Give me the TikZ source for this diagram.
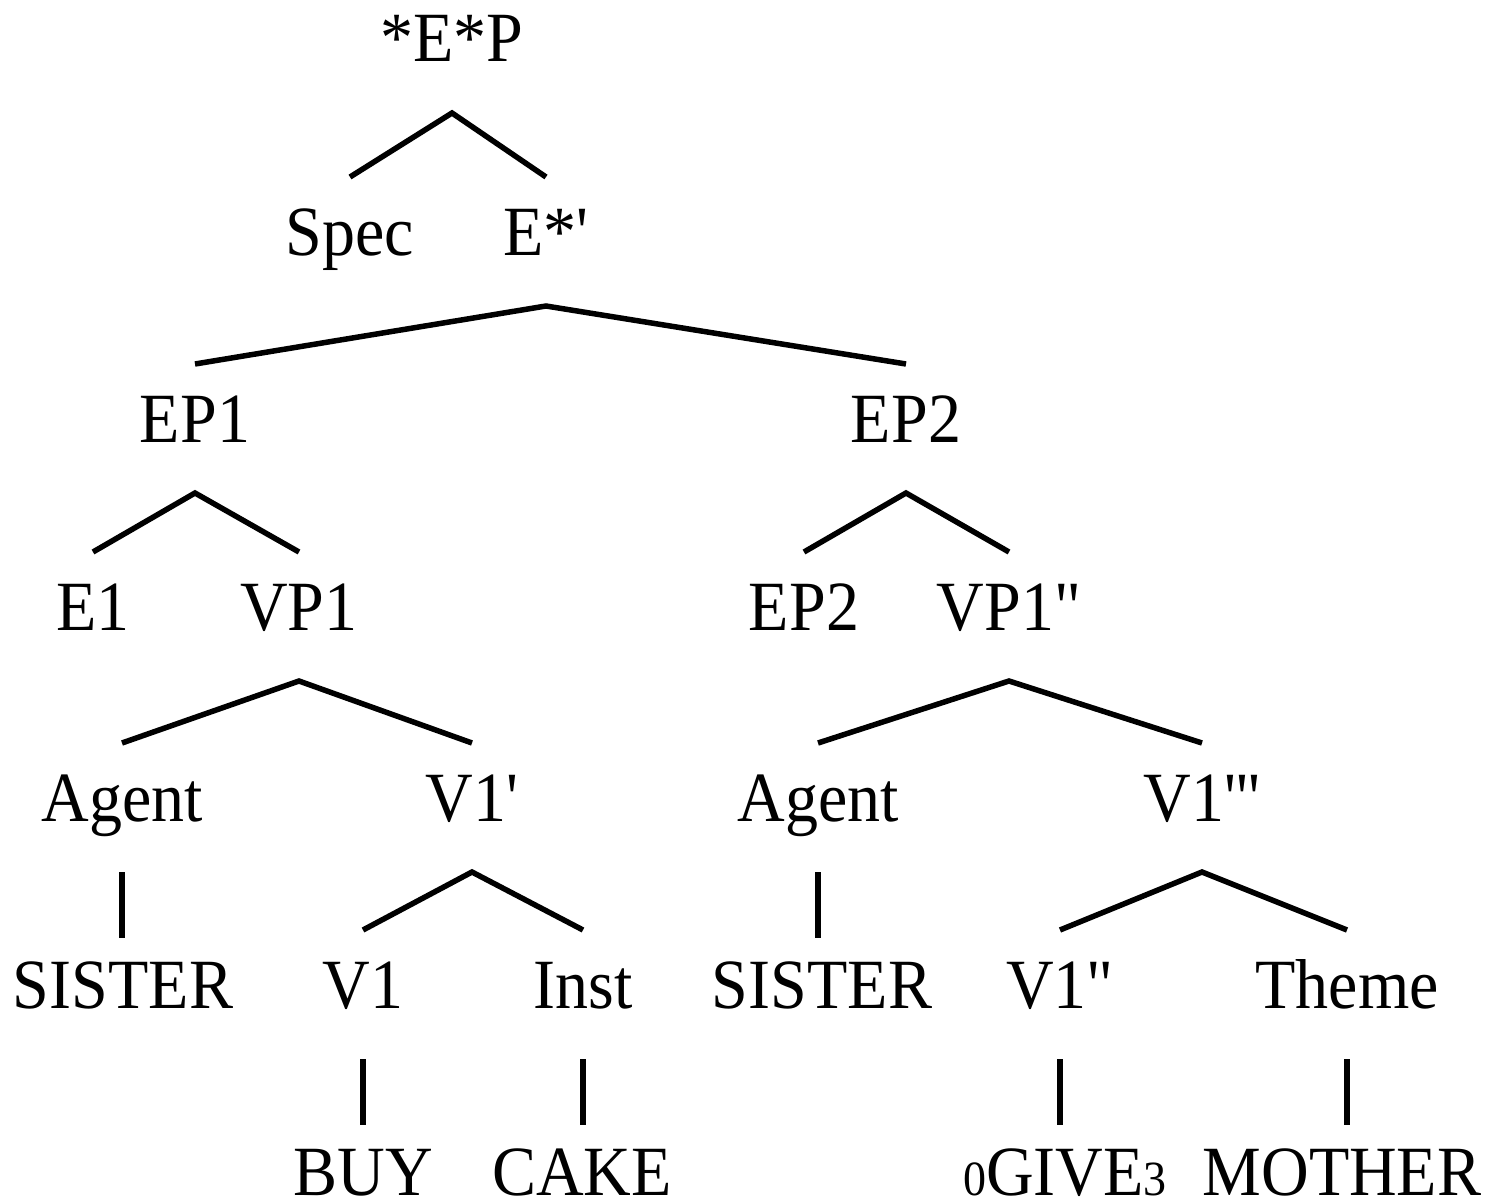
\documentclass[tikz,border=0pt]{standalone}
\usepackage{fontspec}
\setmainfont{Liberation Serif}[Ligatures=TeXOff]
\usepackage{graphicx}
\newcommand{\lbl}[1]{\scalebox{1}[1.07]{#1}}
\newcommand{\smalldigit}[1]{{\fontsize{46}{48}\selectfont #1}}
\tikzset{
  cat/.style={anchor=base, inner xsep=0pt, inner ysep=32pt, outer sep=0pt,
    text height=46pt, text depth=19pt,
    font=\fontsize{66}{70}\selectfont},
  leaf/.style={cat, inner ysep=0pt, text height=78pt, text depth=0pt},
  branch/.style={line width=5.5pt},
  unary/.style={line width=5.5pt, shorten >=-8pt}
}
\begin{document}
\begin{tikzpicture}[x=1pt,y=-1pt]
\useasboundingbox (0,0) rectangle (1494,1201);
% row 1
\node[cat] (EP)    at (452,62)   {\lbl{*E*P}};
% row 2
\node[cat] (Spec)  at (350,255)  {\lbl{Spec}};
\node[cat] (Es)    at (546,255)  {\lbl{E*'}};
% row 3
\node[cat] (EPa)   at (195,442)  {\lbl{EP1}};
\node[cat] (EPb)   at (906,442)  {\lbl{EP2}};
% row 4
\node[cat] (Ea)    at (93,630)   {\lbl{E1}};
\node[cat] (VPa)   at (299,630)  {\lbl{VP1}};
\node[cat] (EPc)   at (804,630)  {\lbl{EP2}};
\node[cat] (VPb)   at (1009,630) {\lbl{VP1"}};
% row 5
\node[cat] (AgA)   at (122,821)  {\lbl{Agent}};
\node[cat] (Vp)    at (472,821)  {\lbl{V1'}};
\node[cat] (AgB)   at (818,821)  {\lbl{Agent}};
\node[cat] (Vppp)  at (1202,821) {\lbl{V1'''}};
% row 6
\node[cat] (SisA)  at (123,1008) {\lbl{SISTER}};
\node[cat] (Va)    at (363,1008) {\lbl{V1}};
\node[cat] (Inst)  at (583,1008) {\lbl{Inst}};
\node[cat] (SisB)  at (822,1008) {\lbl{SISTER}};
\node[cat] (Vpp)   at (1060,1008){\lbl{V1"}};
\node[cat] (Theme) at (1347,1008){\lbl{Theme}};
% row 7
\node[leaf] (Buy)  at (363,1195) {\lbl{BUY}};
\node[leaf] (Cake) at (582,1195) {\lbl{CAKE}};
\node[leaf] (Give) at (1065,1195){\lbl{\smalldigit{0}GIVE\smalldigit{3}}};
\node[leaf] (Moth) at (1342,1195){\lbl{MOTHER}};
% binary branches
\draw[branch] (Spec.north) -- (EP.south) -- (Es.north);
\draw[branch] (EPa.north) -- (Es.south) -- (EPb.north);
\draw[branch] (Ea.north) -- (EPa.south) -- (VPa.north);
\draw[branch] (EPc.north) -- (EPb.south) -- (VPb.north);
\draw[branch] (AgA.north) -- (VPa.south) -- (Vp.north);
\draw[branch] (AgB.north) -- (VPb.south) -- (Vppp.north);
\draw[branch] (Va.north) -- (Vp.south) -- (Inst.north);
\draw[branch] (Vpp.north) -- (Vppp.south) -- (Theme.north);
% unary branches, kept vertical below the parent
\draw[unary] (AgA.south) -- (AgA.south |- SisA.north);
\draw[unary] (AgB.south) -- (AgB.south |- SisB.north);
\draw[unary] (Va.south) -- (Va.south |- Buy.north);
\draw[unary] (Inst.south) -- (Inst.south |- Cake.north);
\draw[unary] (Vpp.south) -- (Vpp.south |- Give.north);
\draw[unary] (Theme.south) -- (Theme.south |- Moth.north);
\end{tikzpicture}
\end{document}
